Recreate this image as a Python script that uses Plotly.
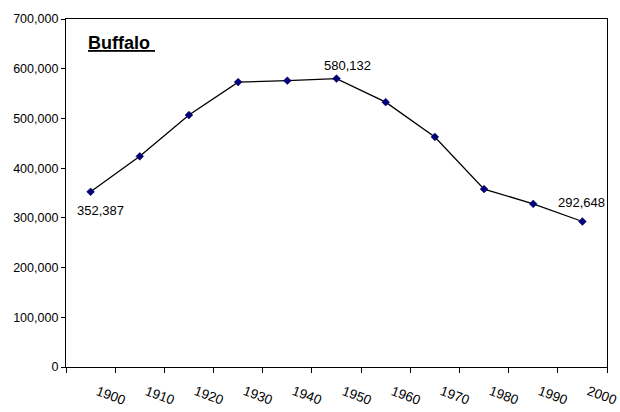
import plotly.graph_objects as go

# Buffalo census population
years = [1900, 1910, 1920, 1930, 1940, 1950, 1960, 1970, 1980, 1990, 2000]
population = [352387, 423715, 506775, 573076, 575901, 580132, 532759, 462768, 357870, 328123, 292648]
year_labels = [str(y) for y in years]
y_ticks = [0, 100000, 200000, 300000, 400000, 500000, 600000, 700000]
y_tick_labels = ["0", "100,000", "200,000", "300,000", "400,000", "500,000", "600,000", "700,000"]
# points that carry a value label: (x offset, y offset) in pixels
labelled = {1900: (10, -19), 1950: (11, 13), 2000: (-1, 19)}

FONT = "Liberation Sans, Arial, sans-serif"

fig = go.Figure()
fig.add_trace(go.Scatter(
    x=years, y=population, mode="lines+markers",
    line=dict(color="black", width=1.3),
    marker=dict(symbol="diamond", size=6, color="#000080", line=dict(color="#000040", width=0.5)),
    showlegend=False, hoverinfo="skip",
))

# value labels
for yr, (dx, dy) in labelled.items():
    v = population[years.index(yr)]
    fig.add_annotation(
        x=yr, y=v, text=f"{v:,}", showarrow=False,
        xanchor="center", yanchor="middle", xshift=dx, yshift=dy,
        font=dict(family=FONT, size=13, color="black"),
    )

# slanted category labels
for yr, lab in zip(years, year_labels):
    fig.add_annotation(
        x=yr, y=0, yref="paper", text=lab, showarrow=False, textangle=20,
        xshift=20, yshift=-28, xanchor="center", yanchor="middle",
        font=dict(family=FONT, size=13.5, color="black"),
    )

fig.add_annotation(
    x=0.037, y=0.932, xref="paper", yref="paper", xanchor="left", yanchor="middle",
    text="<b><u>Buffalo&nbsp;</u></b>", showarrow=False,
    font=dict(family=FONT, size=18, color="black"),
)

tick_bounds = [y - 5 for y in years] + [years[-1] + 5]

fig.update_layout(
    width=620, height=412,
    margin=dict(l=66, r=12, t=12, b=45),
    paper_bgcolor="white", plot_bgcolor="white",
    font=dict(family=FONT, size=12, color="black"),
    xaxis=dict(
        range=[years[0] - 5, years[-1] + 5], tickvals=tick_bounds,
        ticktext=[""] * len(tick_bounds), ticks="outside", ticklen=5, tickcolor="black",
        showline=True, linecolor="black", linewidth=1.3, mirror=True,
        showgrid=False, zeroline=False,
    ),
    yaxis=dict(
        range=[0, 700000], tickvals=y_ticks, ticktext=y_tick_labels,
        ticks="outside", ticklen=4, tickcolor="black",
        showline=True, linecolor="black", linewidth=1.3, mirror=True,
        showgrid=False, zeroline=False, tickfont=dict(family=FONT, size=12.5),
    ),
)

fig.write_html("out.html")
